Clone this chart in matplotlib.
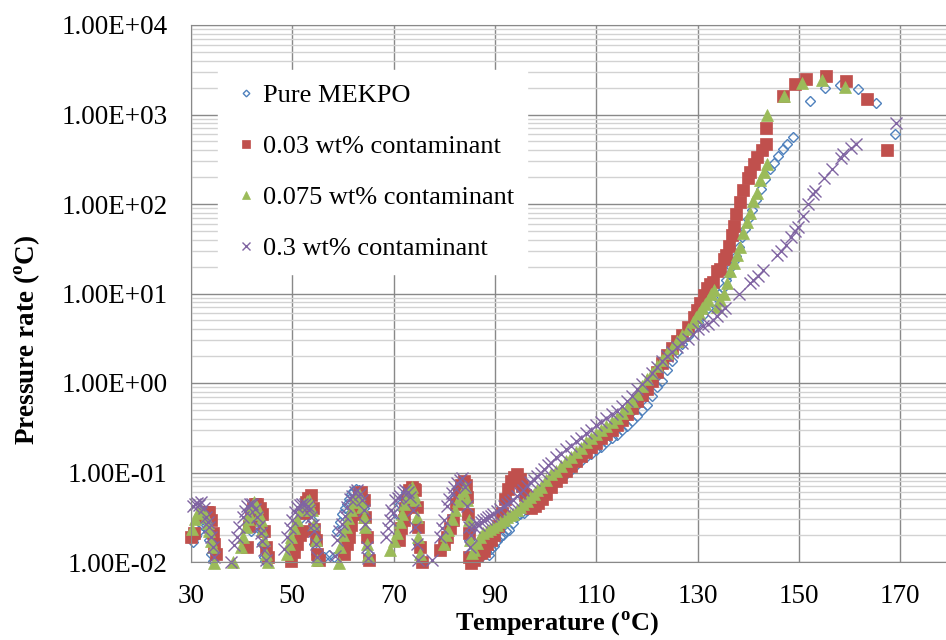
import matplotlib
matplotlib.use("Agg")
import matplotlib.pyplot as plt
from matplotlib.ticker import FixedLocator, FuncFormatter, LogLocator, NullFormatter

plt.rcParams["font.family"] = ["Liberation Serif", "DejaVu Serif"]
plt.rcParams["mathtext.fontset"] = "custom"
plt.rcParams["mathtext.rm"] = "Liberation Serif"
plt.rcParams["mathtext.bf"] = "Liberation Serif:bold"

# Pure MEKPO
temp_pure = [
    30.3, 31.0, 31.6, 32.1, 32.6, 33.0, 33.3, 33.6, 34.0, 34.3,
    41.8, 42.2, 42.5, 42.8, 43.1, 43.5, 43.8, 44.1, 44.4, 44.7,
    51.0, 51.6, 52.3, 52.8, 53.3, 53.9, 54.3, 54.6, 54.9, 56.2, 57.2, 58.2,
    58.9, 59.4, 59.8, 60.3, 60.8, 61.2, 61.5, 62.0, 62.5, 63.1, 63.5, 63.8,
    64.1, 64.4, 64.75, 65.1,
    70.7, 71.3, 72.0, 72.5, 73.0, 73.6, 74.0, 74.3, 74.6, 74.9, 75.2,
    82.2, 82.7, 83.1, 83.5, 83.8, 84.1, 84.5, 84.8, 85.1,
    87.2, 87.8, 88.3, 88.8, 89.3, 89.8, 90.4, 91.0, 91.6, 92.2, 92.8, 93.5,
    94.2, 95.0, 95.7, 96.4, 97.2, 98.0, 99.0, 100.0, 101.0, 102.0, 103.0,
    104.0, 105.0, 106.0, 107.0, 108.0, 109.0, 110.0, 111.0, 112.0, 113.0,
    114.0, 115.0, 116.0, 117.0, 118.0, 119.0, 120.0, 121.0, 122.0, 123.0,
    124.0, 125.0, 126.0, 127.0, 128.0, 129.0, 130.0, 131.0, 132.0, 133.0,
    133.7, 134.3, 135.0, 135.6, 136.1, 136.6, 137.1, 137.5, 138.1, 138.8,
    139.4, 140.0, 140.8, 141.6, 142.5, 143.3, 144.2, 145.0, 145.9, 146.8,
    147.7, 148.8, 152.1, 155.2, 158.0, 161.6, 165.2, 168.9,
]
rate_pure = [
    0.0166, 0.0195, 0.0224, 0.0260, 0.0295, 0.0260, 0.0224, 0.0174, 0.0123, 0.0102,
    0.0224, 0.0290, 0.0347, 0.0330, 0.0316, 0.0270, 0.0224, 0.0158, 0.0115, 0.0102,
    0.0224, 0.0300, 0.0380, 0.0400, 0.0407, 0.0295, 0.0158, 0.0123, 0.0105, 0.0115, 0.0120, 0.0115,
    0.0224, 0.0280, 0.0347, 0.0400, 0.0447, 0.0510, 0.0575, 0.0620, 0.0661, 0.0631, 0.0560, 0.0490,
    0.0400, 0.0316, 0.0191, 0.0123,
    0.0347, 0.0450, 0.0537, 0.0600, 0.0631, 0.0575, 0.0480, 0.0407, 0.0269, 0.0158, 0.0110,
    0.0537, 0.0640, 0.0692, 0.0740, 0.0759, 0.0589, 0.0316, 0.0178, 0.0126,
    0.0115, 0.0126, 0.0132, 0.0120, 0.0141, 0.0150, 0.0170, 0.0191, 0.0200, 0.0220, 0.0229, 0.0270,
    0.0316, 0.0340, 0.0355, 0.0380, 0.0440, 0.0490, 0.0560, 0.0631, 0.0710, 0.0794, 0.0870,
    0.0955, 0.107, 0.120, 0.135, 0.148, 0.162, 0.178, 0.195, 0.219, 0.240,
    0.263, 0.295, 0.331, 0.380, 0.427, 0.500, 0.575, 0.708, 0.891, 1.05,
    1.41, 1.74, 2.24, 2.75, 3.31, 4.07, 4.79, 5.75, 6.92, 8.32,
    9.2, 10.0, 11.5, 14.0, 16.5, 20.0, 23.0, 26.0, 33.0, 42.7,
    52.5, 67.6, 85.1, 110, 148, 191, 245, 288, 347, 407,
    468, 562, 1410, 2000, 2140, 1950, 1350, 600,
]

# 0.03 wt% contaminant
temp_003 = [
    30.0, 30.5, 32.5, 33.2, 33.6, 34.0, 34.3, 34.6, 34.9,
    41.1, 41.5, 41.8, 42.3, 42.7, 43.1, 43.6, 44.1, 44.4, 44.75, 45.1,
    49.7, 50.4, 51.0, 51.6, 52.0, 52.3, 52.6, 53.0, 53.6, 54.0, 54.3, 54.6, 54.9, 55.3,
    60.2, 60.7, 61.1, 61.6, 62.1, 62.6, 63.1, 63.6, 64.1, 64.4, 64.75, 65.1,
    71.0, 71.5, 72.0, 72.3, 72.6, 73.1, 73.6, 74.0, 74.3, 74.6, 74.9, 75.2, 75.6,
    79.2, 79.9, 80.5, 81.2, 81.8, 82.3, 82.8, 83.3, 83.8, 84.2, 84.5, 84.7, 84.8, 84.9, 85.2,
    85.8, 86.5, 87.2, 87.8, 88.5, 89.2, 89.9, 90.6, 91.3, 91.9, 92.5, 93.1,
    93.7, 94.3, 94.9, 95.4, 95.9, 96.5, 97.1, 97.8, 98.5, 99.2, 100.0,
    101.0, 102.0, 103.0, 104.0, 105.0, 106.0, 107.0, 108.0, 109.0, 110.0,
    111.0, 112.0, 113.0, 114.0, 115.0, 116.0, 117.0, 118.0, 119.0, 120.0,
    121.0, 122.0, 123.0, 124.0, 125.0, 126.0, 127.0, 128.0, 129.2, 129.9,
    130.5, 131.2, 131.8, 132.4, 133.1, 133.8, 134.4, 135.1, 135.6, 136.1,
    136.7, 137.2, 137.6, 138.4, 139.0, 139.9, 140.3, 141.1, 141.7, 142.6,
    143.4, 143.4, 146.8, 149.2, 151.3, 155.3, 159.3, 163.4, 167.3,
]
rate_003 = [
    0.0190, 0.0210, 0.0330, 0.0360, 0.0363, 0.0295, 0.0209, 0.0158, 0.0123,
    0.0148, 0.0250, 0.0330, 0.0400, 0.0440, 0.0447, 0.0400, 0.0347, 0.0224, 0.0148, 0.0115,
    0.0102, 0.0130, 0.0158, 0.0200, 0.0224, 0.0350, 0.0468, 0.0520, 0.0562, 0.0400, 0.0234, 0.0174, 0.0123, 0.0105,
    0.0123, 0.0160, 0.0191, 0.0260, 0.0347, 0.0450, 0.0580, 0.0600, 0.0490, 0.0316, 0.0191, 0.0105,
    0.0174, 0.0240, 0.0295, 0.0400, 0.0490, 0.0630, 0.0692, 0.0660, 0.0631, 0.0407, 0.0245, 0.0148, 0.0100,
    0.0135, 0.0160, 0.0191, 0.0240, 0.0295, 0.0450, 0.0589, 0.0720, 0.0794, 0.0720, 0.0537, 0.0347, 0.0209, 0.0115, 0.0098,
    0.0105, 0.0120, 0.0126, 0.0132, 0.0158, 0.0174, 0.0200, 0.0251, 0.0355, 0.0501, 0.0650, 0.0800,
    0.0890, 0.0955, 0.0850, 0.0700, 0.0560, 0.0450, 0.0400, 0.0420, 0.0457, 0.0501, 0.0580,
    0.0680, 0.0794, 0.0900, 0.105, 0.118, 0.135, 0.152, 0.170, 0.191, 0.214,
    0.240, 0.269, 0.302, 0.339, 0.390, 0.447, 0.525, 0.631, 0.741, 0.851,
    1.05, 1.32, 1.66, 2.04, 2.45, 2.95, 3.47, 4.17, 5.5, 6.5,
    7.8, 9.5, 11.5, 12.8, 13.5, 18.0, 19.0, 24.0, 27.0, 34.0,
    45.0, 57.0, 78.0, 105, 145, 195, 229, 282, 339, 398,
    468, 708, 1590, 2190, 2510, 2700, 2340, 1480, 398,
]

# 0.075 wt% contaminant
temp_0075 = [
    30.2, 30.7, 31.3, 32.0, 32.5, 33.0, 33.3, 33.6, 34.0, 34.3, 34.6,
    38.2,
    39.8, 40.3, 40.8, 41.2, 41.5, 42.0, 42.5, 43.1, 43.5, 43.8, 44.1, 44.4, 44.75, 45.1,
    49.0, 49.4, 49.7, 50.4, 51.0, 51.7, 52.3, 52.8, 53.3, 53.9, 54.3, 54.6, 54.9,
    59.2,
    59.5, 60.0, 60.5, 61.0, 61.5, 62.0, 62.5, 63.1, 63.5, 63.8, 64.1, 64.4, 64.75, 65.0,
    69.3, 70.0, 70.7, 71.2, 71.6, 72.1, 72.6, 73.1, 73.6, 74.0, 74.3, 74.6, 74.9, 75.2,
    79.9, 80.4, 80.8, 81.5, 82.2, 82.7, 83.1, 83.6, 84.1, 84.5, 84.8, 85.1, 85.4,
    85.8, 86.4, 87.0, 87.7, 88.4, 89.0, 89.7, 90.4, 91.0, 91.7, 92.4, 93.0,
    93.6, 94.3, 95.0, 95.6, 96.3, 97.0, 97.6, 98.3, 99.0, 100.0,
    101.0, 102.0, 103.0, 104.0, 105.0, 106.0, 107.0, 108.0, 109.0, 110.0,
    111.0, 112.0, 113.0, 114.0, 115.0, 116.0, 117.0, 118.0, 119.0, 120.0,
    121.0, 122.0, 123.0, 124.0, 125.0, 126.0, 127.0, 128.0, 129.0, 129.6,
    130.2, 130.8, 131.4, 132.0, 132.7, 133.3, 133.8, 134.5, 135.1, 135.8,
    136.4, 137.1, 137.7, 138.4, 139.0, 139.7, 140.3, 141.0, 141.7, 142.3,
    143.0, 143.6, 143.6, 147.0, 150.6, 154.5, 159.0,
]
rate_0075 = [
    0.0234, 0.0300, 0.0360, 0.0380, 0.0350, 0.0316, 0.0270, 0.0224, 0.0170, 0.0148, 0.0098,
    0.0100,
    0.0148, 0.0190, 0.0245, 0.0300, 0.0347, 0.0420, 0.0468, 0.0407, 0.0340, 0.0295, 0.0230, 0.0174, 0.0123, 0.0100,
    0.0123, 0.0160, 0.0191, 0.0240, 0.0295, 0.0380, 0.0447, 0.0480, 0.0490, 0.0380, 0.0269, 0.0174, 0.0105,
    0.0098,
    0.0148, 0.0200, 0.0245, 0.0310, 0.0380, 0.0470, 0.0537, 0.0575, 0.0480, 0.0407, 0.0320, 0.0245, 0.0158, 0.0120,
    0.0135, 0.0170, 0.0209, 0.0280, 0.0347, 0.0440, 0.0537, 0.0640, 0.0692, 0.0560, 0.0490, 0.0316, 0.0191, 0.0123,
    0.0158, 0.0200, 0.0229, 0.0300, 0.0380, 0.0480, 0.0537, 0.0620, 0.0692, 0.0490, 0.0295, 0.0178, 0.0126,
    0.0135, 0.0162, 0.0190, 0.0209, 0.0220, 0.0235, 0.0245, 0.0260, 0.0280, 0.0295, 0.0320, 0.0335,
    0.0347, 0.0380, 0.0410, 0.0440, 0.0480, 0.0530, 0.0575, 0.0630, 0.0690, 0.0832,
    0.0950, 0.105, 0.118, 0.135, 0.150, 0.170, 0.190, 0.219, 0.245, 0.269,
    0.295, 0.331, 0.370, 0.407, 0.460, 0.525, 0.630, 0.759, 0.930, 1.12,
    1.30, 1.55, 1.80, 2.14, 2.45, 2.95, 3.40, 3.98, 4.79, 5.4,
    6.0, 6.8, 7.6, 8.5, 9.8, 11.0, 7.1, 8.5, 10.0, 13.0,
    18.0, 22.0, 27.0, 33.0, 47.0, 63.0, 79.0, 107, 132, 186,
    229, 282, 1000, 1590, 2240, 2450, 2040,
]

# 0.3 wt% contaminant
temp_03 = [
    30.3, 30.7, 31.2, 31.6, 32.0, 32.5, 33.0, 33.3, 33.6, 34.0, 34.3, 34.6,
    37.9,
    38.5, 39.0, 39.5, 40.2, 40.6, 41.1, 41.6, 42.1, 42.6, 43.1, 43.5, 43.8, 44.1, 44.4, 44.75,
    48.4, 49.0, 49.5, 50.0, 50.5, 51.0, 51.5, 52.0, 52.5, 53.0, 53.3, 53.6, 54.0, 54.3, 54.6, 54.9,
    58.5,
    58.9, 59.3, 59.8, 60.3, 60.8, 61.3, 61.8, 62.3, 62.8, 63.3, 63.8, 64.1, 64.4, 64.75, 65.0,
    68.4, 68.8, 69.3, 69.5, 69.8, 70.3, 70.8, 71.3, 71.8, 72.3, 72.8, 73.3, 73.9, 74.3, 74.6, 74.9,
    77.5,
    79.2, 79.6, 79.9, 80.5, 81.0, 81.5, 82.0, 82.5, 83.0, 83.5, 84.1, 84.5, 84.8, 85.1,
    85.3, 85.8, 86.3, 86.8, 87.2, 87.7, 88.2, 88.7, 89.2, 89.7, 90.4, 91.0,
    91.7, 92.3, 93.0, 93.6, 94.3, 95.0, 95.6, 96.3, 97.0, 97.6, 98.3, 99.0,
    99.7, 100.4, 101.0, 102.0, 103.0, 104.0, 105.0, 106.0, 107.0, 108.0,
    109.0, 110.0, 111.0, 112.0, 113.0, 114.0, 115.0, 116.0, 117.0, 118.0,
    119.0, 120.0, 121.0, 122.0, 123.0, 124.0, 125.0, 126.0, 127.0, 128.0,
    129.0, 130.0, 131.0, 132.0, 133.0, 133.8, 134.6, 135.3, 138.1, 140.3,
    140.9, 141.9, 142.9, 145.7, 146.5, 147.5, 148.5, 149.2, 149.8, 150.8,
    151.7, 152.7, 153.2, 155.0, 156.6, 158.2, 158.7, 160.3, 161.3, 169.1,
]
rate_03 = [
    0.0420, 0.0447, 0.0460, 0.0430, 0.0468, 0.0400, 0.0316, 0.0280, 0.0245, 0.0191, 0.0148, 0.0115,
    0.0100,
    0.0155, 0.0190, 0.0245, 0.0316, 0.0370, 0.0427, 0.0440, 0.0447, 0.0390, 0.0316, 0.0250, 0.0209, 0.0170, 0.0135, 0.0105,
    0.0141, 0.0191, 0.0240, 0.0295, 0.0360, 0.0407, 0.0430, 0.0447, 0.0440, 0.0427, 0.0380, 0.0316, 0.0260, 0.0224, 0.0158, 0.0115,
    0.0117,
    0.0174, 0.0220, 0.0269, 0.0330, 0.0407, 0.0500, 0.0550, 0.0600, 0.0631, 0.0580, 0.0490, 0.0380, 0.0269, 0.0148, 0.0110,
    0.0191, 0.0240, 0.0295, 0.0380, 0.0350, 0.0490, 0.0520, 0.0550, 0.0600, 0.0631, 0.0600, 0.0537, 0.0380, 0.0245, 0.0158, 0.0105,
    0.0105,
    0.0191, 0.0240, 0.0295, 0.0417, 0.0500, 0.0589, 0.0680, 0.0759, 0.0820, 0.0871, 0.0692, 0.0417, 0.0245, 0.0148,
    0.0200, 0.0245, 0.0270, 0.0260, 0.0280, 0.0295, 0.0300, 0.0320, 0.0330, 0.0347, 0.0370, 0.0390,
    0.0417, 0.0440, 0.0468, 0.0490, 0.0540, 0.0590, 0.0631, 0.0700, 0.0780, 0.0832, 0.0920, 0.100,
    0.110, 0.120, 0.128, 0.148, 0.162, 0.182, 0.200, 0.224, 0.245, 0.275,
    0.302, 0.339, 0.370, 0.407, 0.447, 0.490, 0.550, 0.631, 0.720, 0.851,
    0.980, 1.12, 1.30, 1.51, 1.74, 2.00, 2.24, 2.51, 2.80, 3.09,
    3.55, 3.98, 4.30, 4.60, 5.01, 5.6, 6.3, 6.8, 10.0, 13.2,
    14.1, 15.8, 18.2, 26.9, 30.2, 34.7, 42.7, 50.1, 55.0, 74.1,
    100, 129, 141, 195, 245, 324, 363, 427, 468, 794,
]

fig = plt.figure(figsize=(9.46, 6.4), dpi=100)
ax = fig.add_axes([191 / 946, 78 / 640, 760 / 946, 537 / 640])

ax.plot(temp_pure, rate_pure, ls="none", marker="D", ms=5.2, mfc="none",
        mec="#4F81BD", mew=1.0, clip_on=False, label="Pure MEKPO")
ax.plot(temp_003, rate_003, ls="none", marker="s", ms=8.3, mfc="#C0504D",
        mec="#C0504D", mew=0.5, clip_on=False, label="0.03 wt% contaminant")
ax.plot(temp_0075, rate_0075, ls="none", marker="^", ms=8.8, mfc="#9BBB59",
        mec="#9BBB59", mew=0.5, clip_on=False, label="0.075 wt% contaminant")
ax.plot(temp_03, rate_03, ls="none", marker="x", ms=8.3, mec="#8064A2",
        mew=1.0, clip_on=False, label="0.3 wt% contaminant")

ax.set_yscale("log")
ax.set_ylim(0.01, 10000)
ax.set_xlim(30, 180)

ax.xaxis.set_major_locator(FixedLocator([30, 50, 70, 90, 110, 130, 150, 170]))
ax.yaxis.set_major_locator(FixedLocator([1e-2, 1e-1, 1e0, 1e1, 1e2, 1e3, 1e4]))
ax.yaxis.set_minor_locator(LogLocator(base=10, subs=range(2, 10), numticks=20))
ax.yaxis.set_minor_formatter(NullFormatter())
ax.yaxis.set_major_formatter(FuncFormatter(lambda v, pos: f"{v:.2E}"))

ax.set_axisbelow(True)
ax.grid(which="major", axis="both", color="#898989", lw=1.0)
ax.grid(which="minor", axis="y", color="#d2d2d2", lw=1.0)

ax.tick_params(axis="both", which="both", length=0, labelsize=19.5)
ax.tick_params(axis="x", pad=16)
ax.tick_params(axis="y", pad=17)

for side in ["left", "bottom", "top"]:
    ax.spines[side].set_color("#898989")
ax.spines["right"].set_visible(False)

legend = ax.legend(loc="upper left", bbox_to_anchor=(0.0355, 0.916),
                   borderaxespad=0, frameon=True, fancybox=False,
                   facecolor="white", edgecolor="white", framealpha=1,
                   fontsize=19, borderpad=0.5, labelspacing=1.05,
                   handlelength=1.1, handletextpad=0.1, markerscale=0.65)

fig.text(557 / 946, 1 - 624 / 640, r"Temperature ($^{\mathbf{o}}$C)",
         fontsize=19, fontweight="bold", ha="center", va="center")
fig.text(27 / 946, 1 - 340 / 640, r"Pressure rate ($^{\mathbf{o}}$C)",
         fontsize=19.5, fontweight="bold", ha="center", va="center",
         rotation=90)

fig.savefig("out.png", dpi=100)
